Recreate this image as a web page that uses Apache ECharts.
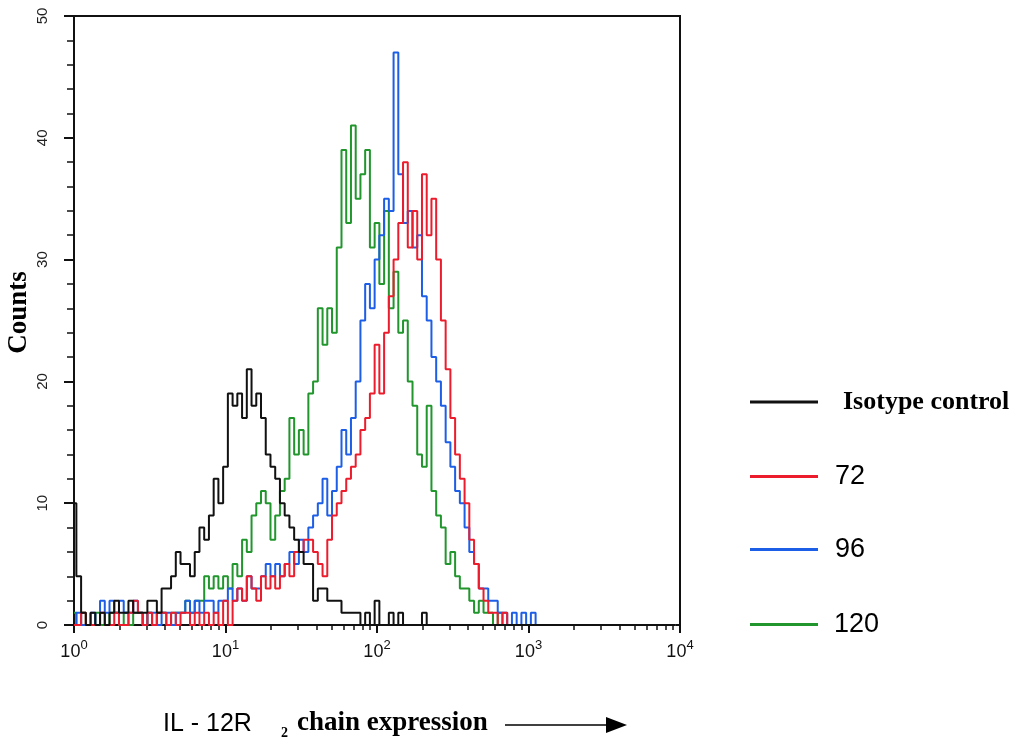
<!DOCTYPE html>
<html><head><meta charset="utf-8">
<script src="https://cdn.jsdelivr.net/npm/echarts@6/dist/echarts.min.js"></script>
<style>html,body{margin:0;padding:0;background:#fff}#chart{width:1021px;height:745px}</style>
</head><body><div id="chart"></div>
<script>
// 128 log channels over 4 decades (32 channels per decade)
const CHANNELS_PER_DECADE = 32;
const xTickExponents = ['0', '1', '2', '3', '4'];
const seriesNames = ['Isotype control', '72', '96', '120'];

const isotype = [
  10,4,1,0,1,0,1,0,1,2,1,1,2,1,1,1,
  2,2,1,3,3,4,6,5,5,4,6,8,7,9,12,10,
  13,19,18,19,17,21,18,19,17,14,13,12,10,9,8,7,
  6,5,5,2,3,3,2,2,2,1,1,1,1,0,1,0,
  2,0,0,1,0,1,0,0,0,0,1,0,0,0,0,0,
  0,0,0,0,0,0,0,0,0,0,0,0,0,0,0,0,
  0,0,0,0,0,0,0,0,0,0,0,0,0,0,0,0,
  0,0,0,0,0,0,0,0,0,0,0,0,0,0,0,0
];
const h72 = [
  0,0,1,0,0,0,1,0,0,1,0,0,1,2,1,0,
  1,0,1,1,0,1,0,1,1,0,1,0,1,0,1,0,
  2,0,2,3,2,4,3,2,4,3,4,3,4,5,4,6,
  6,7,7,6,5,4,7,9,10,11,12,13,14,16,17,19,
  23,19,24,27,30,33,38,31,34,30,37,32,35,30,25,21,
  17,14,12,10,7,5,3,2,1,1,0,1,0,0,0,0,
  0,0,0,0,0,0,0,0,0,0,0,0,0,0,0,0,
  0,0,0,0,0,0,0,0,0,0,0,0,0,0,0,0
];
const h96 = [
  0,1,0,0,1,0,2,1,2,1,2,1,1,2,1,0,
  1,1,0,1,1,0,1,1,2,1,2,1,2,2,1,2,
  2,3,2,3,2,4,3,3,4,5,4,5,4,5,6,5,
  7,6,8,9,10,12,9,11,13,16,14,17,20,25,28,26,
  30,32,35,34,47,37,33,34,31,32,27,25,22,20,18,15,
  13,11,10,8,6,5,3,3,2,2,1,1,0,1,0,1,
  0,1,0,0,0,0,0,0,0,0,0,0,0,0,0,0,
  0,0,0,0,0,0,0,0,0,0,0,0,0,0,0,0
];
const h120 = [
  1,0,1,0,0,1,0,0,1,1,0,1,0,1,1,0,
  1,0,1,1,0,1,1,1,2,1,2,2,4,3,4,3,
  4,3,5,4,7,6,9,10,11,10,7,9,11,12,17,14,
  16,14,19,20,26,23,26,24,31,39,33,41,35,37,39,31,
  33,28,34,26,29,24,25,20,18,14,13,18,11,9,8,5,
  6,4,3,3,2,1,2,1,1,0,1,0,0,0,0,0,
  0,0,0,0,0,0,0,0,0,0,0,0,0,0,0,0,
  0,0,0,0,0,0,0,0,0,0,0,0,0,0,0,0
];

const colors = { 'Isotype control': '#111111', '72': '#ec1c2c', '96': '#1d5ee6', '120': '#21962d' };
const xMax = CHANNELS_PER_DECADE * (xTickExponents.length - 1);

const minorTicks = [];
for (let d = 0; d < xTickExponents.length - 1; d++) {
  for (let k = 2; k <= 9; k++) minorTicks.push(CHANNELS_PER_DECADE * (d + Math.log10(k)));
}

function mk(name, arr, z) {
  return {
    name: name, type: 'line', step: 'middle', showSymbol: false, z: z,
    data: arr.map((v, i) => [i, v]),
    lineStyle: { color: colors[name], width: 2 },
    itemStyle: { color: colors[name] },
    emphasis: { disabled: true }
  };
}

function legendAt(name, centerY, font, gap) {
  return {
    data: [name], left: 750, top: centerY - 13, padding: 0, icon: 'rect', itemWidth: 68, itemHeight: 3,
    textStyle: Object.assign({ color: '#000', padding: [0, 0, 0, gap] }, font),
    selectedMode: false
  };
}

const chart = echarts.init(document.getElementById('chart'));
chart.setOption({
  animation: false,
  backgroundColor: '#fff',
  grid: { left: 74, right: 341, top: 16, bottom: 120, show: true, borderColor: '#111', borderWidth: 2, outerBoundsMode: 'none' },
  xAxis: [{
    type: 'value', min: 0, max: xMax, interval: CHANNELS_PER_DECADE,
    axisLine: { show: true, onZero: false, lineStyle: { color: '#111', width: 2 } },
    axisTick: { show: true, length: 8, lineStyle: { color: '#111', width: 2 } },
    splitLine: { show: false },
    axisLabel: {
      margin: 14,
      formatter: v => '{b|10}{s|' + xTickExponents[Math.round(v / CHANNELS_PER_DECADE)] + '}',
      rich: {
        b: { fontSize: 18, fontFamily: 'Liberation Sans', color: '#111', lineHeight: 22, verticalAlign: 'bottom' },
        s: { fontSize: 13, fontFamily: 'Liberation Sans', color: '#111', lineHeight: 22, verticalAlign: 'top' }
      }
    }
  }, {
    type: 'value', min: 0, max: xMax, position: 'bottom',
    axisLine: { show: false }, axisLabel: { show: false }, splitLine: { show: false },
    axisTick: { show: true, length: 5, customValues: minorTicks, lineStyle: { color: '#111', width: 1.5 } }
  }],
  yAxis: {
    type: 'value', min: 0, max: 50, interval: 10,
    axisLine: { show: true, lineStyle: { color: '#111', width: 2 } },
    axisTick: { show: true, length: 10, lineStyle: { color: '#111', width: 2 } },
    minorTick: { show: true, splitNumber: 5, length: 7, lineStyle: { color: '#111', width: 1.5 } },
    splitLine: { show: false },
    axisLabel: { rotate: 90, margin: 24, fontSize: 15, color: '#222', fontFamily: 'Liberation Sans' },
    name: 'Counts', nameLocation: 'middle', nameGap: 41, nameRotate: 90, nameMoveOverlap: false,
    nameTextStyle: { fontFamily: 'Liberation Serif', fontWeight: 'bold', fontSize: 27, color: '#000', padding: [0, 0, 0, 16] }
  },
  legend: [
    legendAt('Isotype control', 402, { fontFamily: 'Liberation Serif', fontWeight: 'bold', fontSize: 26 }, 20),
    legendAt('72', 476, { fontFamily: 'Liberation Sans', fontSize: 27 }, 12),
    legendAt('96', 549, { fontFamily: 'Liberation Sans', fontSize: 27 }, 12),
    legendAt('120', 624, { fontFamily: 'Liberation Sans', fontSize: 27 }, 11)
  ],
  series: [
    mk('120', h120, 2),
    mk('96', h96, 3),
    mk('72', h72, 4),
    mk('Isotype control', isotype, 5)
  ],
  graphic: [
    { type: 'text', left: 163, top: 712, style: { text: 'IL - 12R', font: '25px "Liberation Sans"', fill: '#000' } },
    { type: 'text', left: 281, top: 726, style: { text: '2', font: 'bold 14px "Liberation Serif"', fill: '#000' } },
    { type: 'text', left: 297, top: 710, style: { text: 'chain expression', font: 'bold 27px "Liberation Serif"', fill: '#000' } },
    { type: 'line', shape: { x1: 505, y1: 725, x2: 610, y2: 725 }, style: { stroke: '#000', lineWidth: 1.5 } },
    { type: 'polygon', shape: { points: [[606, 717], [627, 725], [606, 733]] }, style: { fill: '#000' } }
  ]
});
</script>
</body></html>
